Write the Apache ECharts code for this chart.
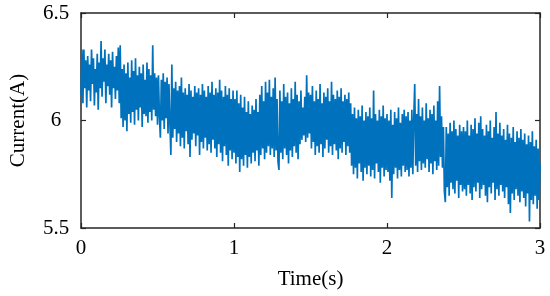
<!DOCTYPE html>
<html>
<head>
<meta charset="utf-8">
<script src="https://cdn.jsdelivr.net/npm/echarts@6/dist/echarts.min.js"></script>
<style>html,body{margin:0;padding:0;background:#fff;}#c{width:550px;height:296px;}</style>
</head>
<body>
<div id="c"></div>
<script>
// Tick labels
var xTicks = [0, 1, 2, 3];
var yTicks = [5.5, 6, 6.5];
// Current samples (A), 0.5 s per block
var current0 = [6.12,6.33,6.08,6.33,6.15,6.28,6.06,6.30,6.14,6.26,6.09,6.33,6.17,6.29,6.07,6.24,6.13,6.31,6.05,6.27,
6.15,6.37,6.11,6.29,6.18,6.33,6.08,6.26,6.16,6.31,6.12,6.28,6.06,6.32,6.15,6.25,6.10,6.30,6.14,6.34,
6.08,6.35,6.01,6.24,5.97,6.26,6.00,6.22,5.95,6.27,6.03,6.20,5.99,6.28,6.04,6.23,5.98,6.29,6.05,6.21,
6.00,6.25,6.06,6.22,5.97,6.26,6.03,6.19,6.02,6.27,5.99,6.24,6.04,6.21,6.00,6.35,6.05,6.22,6.02,6.20];
var current1 = [5.98,6.21,6.02,5.92,6.19,6.00,6.22,5.96,6.18,6.01,6.20,5.94,6.17,5.98,5.84,6.26,5.92,6.15,5.96,6.18,
5.90,6.14,5.94,6.16,5.88,6.20,5.92,6.13,5.87,6.15,5.95,6.12,5.89,6.17,5.83,6.14,5.91,6.11,5.94,6.16,
5.88,6.13,5.93,6.15,5.84,6.12,5.90,6.17,5.87,6.14,5.92,6.11,5.86,6.16,5.89,6.13,5.85,6.18,5.91,6.12,
5.87,6.15,5.83,6.13,5.89,6.19,5.85,6.14,5.81,6.11,5.88,6.16,5.84,6.12,5.79,6.15,5.86,6.10,5.82,6.14];
var current2 = [5.85,6.10,5.80,6.14,5.83,6.08,5.76,6.12,5.82,6.06,5.79,6.11,5.84,6.04,5.78,6.09,5.83,6.03,5.80,6.07,
5.85,6.05,5.81,6.10,5.86,6.04,5.79,6.12,5.84,6.16,5.87,6.09,5.82,6.18,5.85,6.13,5.88,6.19,5.84,6.11,
5.87,6.15,5.83,6.20,5.86,6.10,5.81,5.77,6.14,5.85,6.09,5.82,6.17,5.87,6.11,5.84,6.13,5.80,6.08,5.86,
6.15,5.83,6.10,5.88,6.18,5.85,6.12,5.82,6.09,5.89,6.14,5.91,6.06,5.93,6.11,5.90,6.21,5.92,6.13,5.94];
var current3 = [6.12,5.87,6.16,5.90,6.09,5.84,6.14,5.88,6.10,5.85,6.17,5.89,6.08,5.83,6.13,5.87,6.11,5.91,6.15,5.85,
6.09,5.88,6.18,5.84,6.12,5.89,6.10,5.86,6.14,5.82,6.11,5.87,6.15,5.85,6.09,5.90,6.12,5.84,6.10,5.88,
6.13,5.85,6.08,5.79,6.03,5.75,6.06,5.78,6.01,5.73,6.05,5.80,6.02,5.76,6.07,5.72,6.00,5.78,6.04,5.75,
6.02,5.79,6.06,5.74,6.01,5.77,6.14,5.73,6.03,5.80,6.00,5.76,6.05,5.71,6.02,5.78,6.07,5.74,6.01,5.77];
var current4 = [6.03,5.76,6.00,5.72,6.05,5.64,5.98,5.75,6.04,5.78,6.01,5.73,6.06,5.77,5.99,5.74,6.03,5.79,6.05,5.76,
6.02,5.77,6.04,5.74,6.00,5.78,6.05,5.75,6.01,6.17,5.79,6.03,5.76,6.10,5.81,6.02,5.77,6.06,5.80,6.00,
5.78,6.08,5.82,6.01,5.76,6.05,5.80,6.03,5.75,6.07,5.81,6.00,5.77,6.09,5.79,6.16,5.83,6.02,5.78,5.97,
5.67,5.62,5.97,5.69,5.94,5.65,5.99,5.71,5.95,5.68,6.00,5.66,5.96,5.72,5.93,5.64,5.98,5.70,5.95,5.67];
var current5 = [5.97,5.68,5.95,5.65,6.00,5.70,5.93,5.66,5.98,5.63,5.96,5.69,6.01,5.67,5.94,5.71,5.99,5.64,6.02,5.68,
5.96,5.70,5.93,5.65,5.98,5.62,5.95,5.69,6.00,5.66,5.92,5.71,5.97,5.63,6.04,5.68,5.94,5.65,5.99,5.70,
5.93,5.67,5.96,5.64,5.91,5.69,5.98,5.61,5.94,5.57,5.92,5.66,5.97,5.63,5.90,5.68,5.95,5.65,5.92,5.62,
5.96,5.67,5.91,5.64,5.94,5.60,5.89,5.66,5.93,5.53,5.90,5.63,5.95,5.61,5.88,5.65,5.91,5.59,5.87,5.63,5.80];
var tEnd = 3;

var current = [].concat(current0, current1, current2, current3, current4, current5);
var n = current.length;
var data = current.map(function (v, i) { return [i * tEnd / (n - 1), v]; });

var axisCol = '#262626';
var font = 'Liberation Serif, Times New Roman, serif';
var chart = echarts.init(document.getElementById('c'), null, {renderer: 'canvas'});
chart.setOption({
  animation: false,
  backgroundColor: '#fff',
  grid: {left: 78, right: 10, top: 13, bottom: 68, containLabel: false},
  xAxis: [{
    type: 'value', min: xTicks[0], max: xTicks[xTicks.length - 1], interval: 1,
    name: 'Time(s)', nameLocation: 'middle', nameGap: 41,
    nameTextStyle: {color: '#000', fontFamily: font, fontSize: 21},
    axisLine: {show: true, lineStyle: {color: axisCol, width: 1.5}},
    axisTick: {show: true, inside: true, length: 5, lineStyle: {color: axisCol, width: 1.2}},
    axisLabel: {color: '#000', fontFamily: font, fontSize: 21, margin: 10},
    splitLine: {show: false}
  }, {
    type: 'value', position: 'top', min: 0, max: 3, interval: 1,
    axisLine: {show: true, onZero: false, lineStyle: {color: axisCol, width: 1.5}},
    axisTick: {show: true, inside: true, length: 5, lineStyle: {color: axisCol, width: 1.2}},
    axisLabel: {show: false}, splitLine: {show: false}
  }],
  yAxis: [{
    type: 'value', min: yTicks[0], max: yTicks[yTicks.length - 1], interval: 0.5,
    name: 'Current(A)', nameLocation: 'middle', nameGap: 52,
    nameTextStyle: {color: '#000', fontFamily: font, fontSize: 21},
    axisLine: {show: true, lineStyle: {color: axisCol, width: 1.5}},
    axisTick: {show: true, inside: true, length: 5, lineStyle: {color: axisCol, width: 1.2}},
    axisLabel: {color: '#000', fontFamily: font, fontSize: 21, margin: 25, align: 'center'},
    splitLine: {show: false}
  }, {
    type: 'value', position: 'right', min: 5.5, max: 6.5, interval: 0.5,
    axisLine: {show: true, onZero: false, lineStyle: {color: axisCol, width: 1.5}},
    axisTick: {show: true, inside: true, length: 5, lineStyle: {color: axisCol, width: 1.2}},
    axisLabel: {show: false}, splitLine: {show: false}
  }],
  series: [{
    type: 'line', data: data, xAxisIndex: 0, yAxisIndex: 0,
    showSymbol: false, symbol: 'none', sampling: null,
    lineStyle: {color: '#0072BD', width: 1.7},
    clip: true
  }]
});
</script>
</body>
</html>
